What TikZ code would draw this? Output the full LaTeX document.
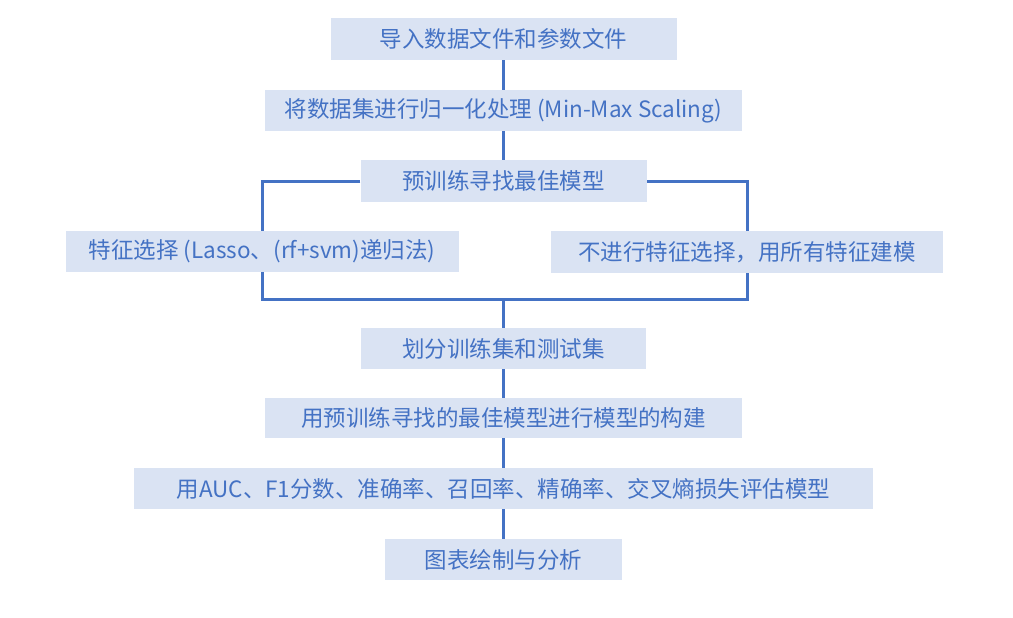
\documentclass[tikz,border=0pt]{standalone}
\usepackage{fontspec}
\setmainfont{Noto Sans CJK SC}
\usetikzlibrary{backgrounds}
\definecolor{boxfill}{HTML}{DAE3F3}
\definecolor{ink}{HTML}{4472C4}
\begin{document}
\begin{tikzpicture}[x=1pt,y=-1pt,
  box/.style={fill=boxfill,text=ink,inner sep=0pt,anchor=center,font=\fontsize{22.5}{26}\selectfont},
  link/.style={draw=ink,line width=3pt}]
\useasboundingbox (0,0) rectangle (1013,618);
\node[box,minimum width=346,minimum height=42] (b1) at (503.5,39) {导入数据文件和参数文件};
\node[box,minimum width=477,minimum height=41] (b2) at (503.5,110.5) {将数据集进行归一化处理 (Min-Max Scaling)};
\node[box,minimum width=286,minimum height=42] (b3) at (503.5,181) {预训练寻找最佳模型};
\node[box,minimum width=393,minimum height=41] (b4) at (262,251) {特征选择 (Lasso、(rf+svm)递归法)};
\node[box,minimum width=392,minimum height=42] (b5) at (747,252) {不进行特征选择，用所有特征建模};
\node[box,minimum width=285,minimum height=41] (b6) at (503.5,348.5) {划分训练集和测试集};
\node[box,minimum width=477,minimum height=40] (b7) at (503.5,418) {用预训练寻找的最佳模型进行模型的构建};
\node[box,minimum width=739,minimum height=41] (b8) at (503.5,488.5) {用AUC、F1分数、准确率、召回率、精确率、交叉熵损失评估模型};
\node[box,minimum width=237,minimum height=41] (b9) at (503.5,559.5) {图表绘制与分析};
\coordinate (j) at (503.5,299);
\begin{scope}[on background layer]
\fill[white] (0,0) rectangle (1013,618);
\draw[link] (b1.south) -- (b2.north);
\draw[link] (b2.south) -- (b3.north);
\draw[link] (b3.west) -| (b4.center) |- (j) -| (b5.center) |- (b3.east);
\draw[link] (j) -- (b6.north);
\draw[link] (b6.south) -- (b7.north);
\draw[link] (b7.south) -- (b8.north);
\draw[link] (b8.south) -- (b9.north);
\end{scope}
\end{tikzpicture}
\end{document}
